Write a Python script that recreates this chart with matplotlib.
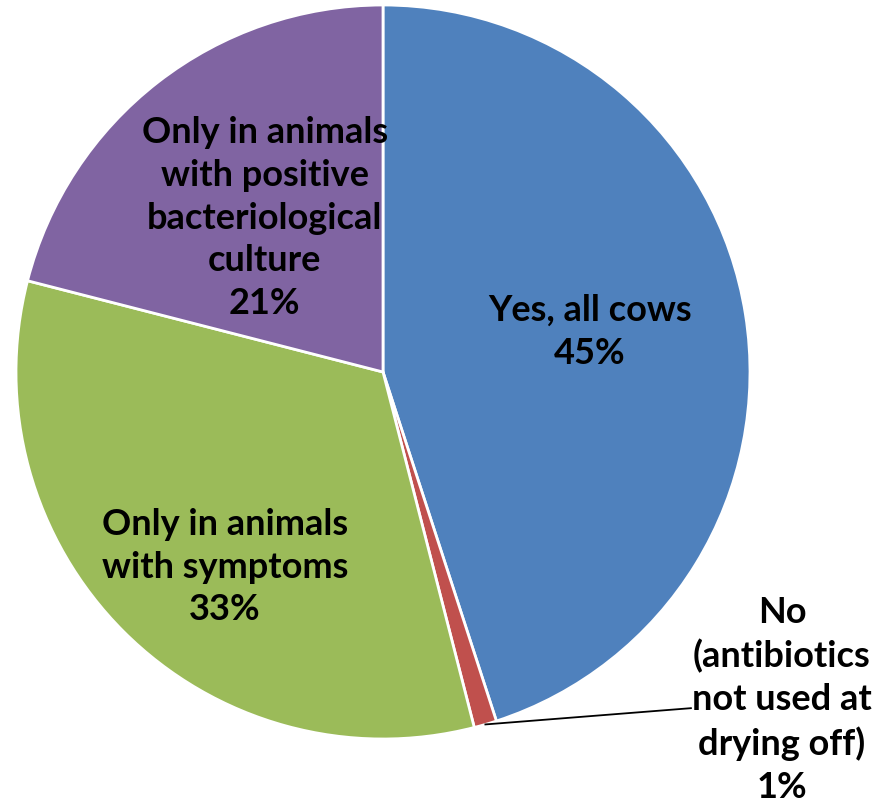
import matplotlib
matplotlib.use("Agg")
import matplotlib.pyplot as plt
import numpy as np

labels = ["Yes, all cows", "No\n(antibiotics\nnot used at\ndrying off)",
          "Only in animals\nwith symptoms",
          "Only in animals\nwith positive\nbacteriological\nculture"]
values = [45, 1, 33, 21]
colors = ["#4F81BD", "#C0504D", "#9BBB59", "#8064A2"]

# where each label block sits (data coords, pie radius = 1)
label_pos = [(0.564, 0.112), (1.087, -0.891), (-0.431, -0.529), (-0.322, 0.422)]

plt.rcParams["font.family"] = ["Lato", "DejaVu Sans"]

fig = plt.figure(figsize=(8.81, 8.04), dpi=100)
ax = fig.add_axes([0, 0, 1, 1])

wedges, _ = ax.pie(values, colors=colors, startangle=90, counterclock=False,
                   radius=1.0, center=(0, 0),
                   wedgeprops=dict(edgecolor="white", linewidth=2))

for lab, val, (x, y) in zip(labels, values, label_pos):
    ax.text(x, y, f"{lab}\n{val}%", ha="center", va="center",
            fontsize=26, fontweight="bold", color="black", linespacing=1.36)

# leader line for the small "No" slice
w = wedges[1]
mid = np.deg2rad((w.theta1 + w.theta2) / 2)
ax.plot([np.cos(mid), 0.839], [np.sin(mid), -0.916], color="black", lw=1.3)

ax.set_xlim(-383 / 367, 498 / 367)
ax.set_ylim(-431 / 367, 373 / 367)
ax.set_aspect("equal")
ax.axis("off")

fig.savefig("out.png", dpi=100, facecolor="white")
